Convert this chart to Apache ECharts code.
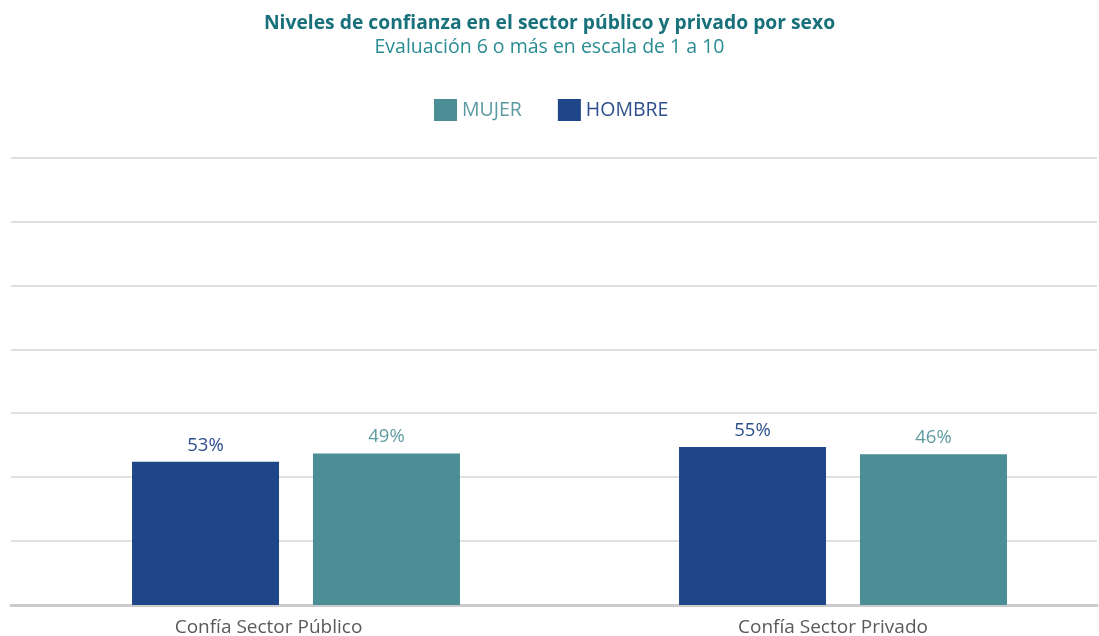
<!DOCTYPE html>
<html>
<head>
<meta charset="utf-8">
<script src="https://cdn.jsdelivr.net/npm/echarts@6/dist/echarts.min.js"></script>
<style>
html,body{margin:0;padding:0;background:#fff;}
#chart{width:1099px;height:636px;}
</style>
</head>
<body>
<div id="chart"></div>
<script>
const titleText = 'Niveles de confianza en el sector público y privado por sexo';
const subtitleText = 'Evaluación 6 o más en escala de 1 a 10';
const categories = ['Confía Sector Público', 'Confía Sector Privado'];
const seriesNames = ['HOMBRE', 'MUJER'];
const legendOrder = ['MUJER', 'HOMBRE'];
// bar heights as drawn (hidden scale 0-70)
const hombreValues = [22.4, 24.7];
const mujerValues = [23.7, 23.6];
// printed labels
const hombreLabels = ['53%', '55%'];
const mujerLabels = ['49%', '46%'];
const yTicks = [0, 10, 20, 30, 40, 50, 60, 70];

const FONT = '"Open Sans", sans-serif';
const C_H = '#1F4688';
const C_M = '#4C8E96';

const chart = echarts.init(document.getElementById('chart'), null, {renderer: 'canvas'});
const yMin = yTicks[0], yMax = yTicks[yTicks.length - 1], yInt = yTicks[1] - yTicks[0];
const gTop = 157.5, gHeight = 447.5;

chart.setOption({
  animation: false,
  backgroundColor: '#ffffff',
  title: [
    {text: titleText, left: 'center', top: 9,
     textStyle: {fontFamily: FONT, fontSize: 19.3, fontWeight: 'bold', color: '#17707A'}},
    {text: subtitleText, left: 'center', top: 32,
     textStyle: {fontFamily: FONT, fontSize: 19.5, fontWeight: 'normal', color: '#2A8C93'}}
  ],
  legend: {
    data: [
      {name: 'MUJER', textStyle: {color: '#5A9AA0'}},
      {name: 'HOMBRE', textStyle: {color: '#2E4F8C'}}
    ],
    left: 434, top: 99, padding: 0, itemWidth: 23, itemHeight: 22, itemGap: 36,
    icon: 'rect',
    textStyle: {fontFamily: FONT, fontSize: 19.5, padding: [3, 0, 0, 0]}
  },
  grid: [
    {left: 11, width: 1086, top: gTop, height: gHeight, outerBoundsMode: 'none', containLabel: false},
    {left: 22.5, width: 1094, top: gTop, height: gHeight, outerBoundsMode: 'none', containLabel: false},
    {left: -13.75, width: 1129, top: gTop, height: gHeight, outerBoundsMode: 'none', containLabel: false}
  ],
  xAxis: [
    {type: 'category', gridIndex: 0, data: categories, offset: 4,
     axisLine: {show: true, lineStyle: {color: '#CBCBCB', width: 3}},
     axisTick: {show: false}, axisLabel: {show: false}, splitLine: {show: false}},
    {type: 'category', gridIndex: 1, data: categories,
     axisLine: {show: false}, axisTick: {show: false}, axisLabel: {show: false}},
    {type: 'category', gridIndex: 2, data: categories,
     axisLine: {show: false}, axisTick: {show: false},
     axisLabel: {show: true, margin: 13, fontFamily: FONT, fontSize: 19, color: '#595959'}}
  ],
  yAxis: [
    {type: 'value', gridIndex: 0, min: yMin, max: yMax, interval: yInt,
     axisLine: {show: false}, axisTick: {show: false}, axisLabel: {show: false},
     splitLine: {show: true, lineStyle: {color: '#D6D6D6', width: 1.5}}},
    {type: 'value', gridIndex: 1, min: yMin, max: yMax, interval: yInt,
     axisLine: {show: false}, axisTick: {show: false}, axisLabel: {show: false}, splitLine: {show: false}},
    {type: 'value', gridIndex: 2, min: yMin, max: yMax, interval: yInt,
     axisLine: {show: false}, axisTick: {show: false}, axisLabel: {show: false}, splitLine: {show: false}}
  ],
  series: [
    {name: 'HOMBRE', type: 'bar', xAxisIndex: 1, yAxisIndex: 1, data: hombreValues,
     barWidth: 147, barGap: '23.1%', itemStyle: {color: C_H},
     label: {show: true, position: 'top', distance: 7, fontFamily: FONT, fontSize: 18.5, color: '#2E4F8C',
             formatter: p => hombreLabels[p.dataIndex]}},
    {name: 'MUJER', type: 'bar', xAxisIndex: 1, yAxisIndex: 1, data: mujerValues,
     barWidth: 147, barGap: '23.1%', itemStyle: {color: C_M},
     label: {show: true, position: 'top', distance: 7, fontFamily: FONT, fontSize: 18.5, color: '#5E9CA2',
             formatter: p => mujerLabels[p.dataIndex]}}
  ]
});
</script>
</body>
</html>
